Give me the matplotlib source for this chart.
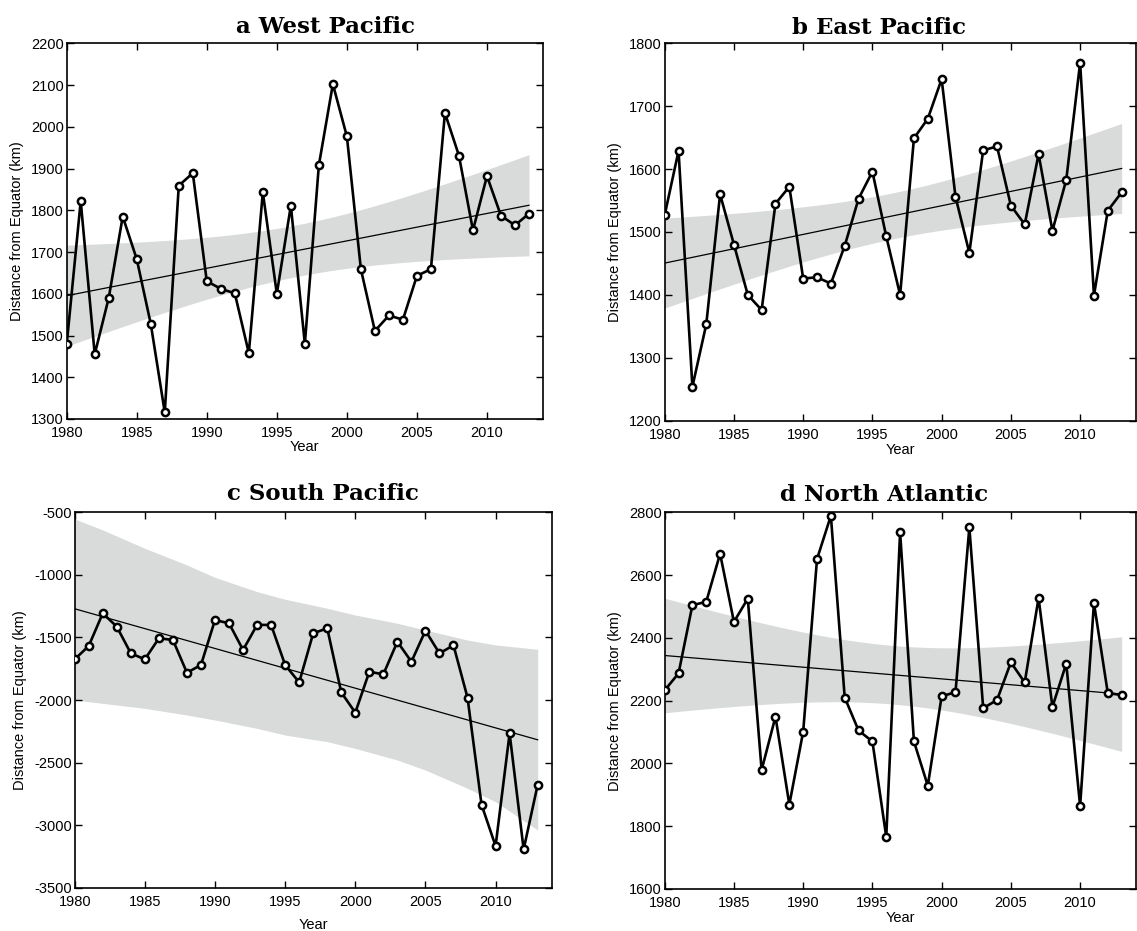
import numpy as np
import matplotlib.pyplot as plt

years = np.arange(1980, 2014)

west_pacific = [1479, 1822, 1455, 1590, 1785, 1683, 1528, 1316, 1859, 1889,
                1630, 1612, 1601, 1458, 1843, 1600, 1811, 1480, 1908, 2102,
                1977, 1659, 1511, 1548, 1538, 1643, 1659, 2033, 1931, 1752,
                1882, 1787, 1764, 1792]
east_pacific = [1527, 1629, 1254, 1353, 1560, 1480, 1400, 1376, 1545, 1572,
                1426, 1428, 1418, 1478, 1553, 1596, 1493, 1400, 1649, 1680,
                1743, 1556, 1467, 1630, 1636, 1542, 1512, 1624, 1502, 1583,
                1769, 1399, 1534, 1563]
south_pacific = [-1675, -1568, -1307, -1414, -1627, -1675, -1507, -1520, -1782, -1720,
                 -1361, -1387, -1600, -1400, -1400, -1720, -1859, -1467, -1427, -1939,
                 -2101, -1774, -1795, -1534, -1694, -1446, -1627, -1563, -1981, -2837,
                 -3167, -2267, -3194, -2677]
north_atlantic = [2233, 2287, 2504, 2515, 2668, 2451, 2525, 1979, 2149, 1869,
                  2101, 2651, 2789, 2210, 2105, 2070, 1766, 2736, 2070, 1929,
                  2214, 2227, 2752, 2176, 2202, 2322, 2258, 2527, 2180, 2318,
                  1864, 2511, 2224, 2218]

# the South Pacific band is not a plain OLS interval, edges read off the figure
south_band_years = [1980, 1982, 1985, 1988, 1990, 1993, 1995, 1998, 2000, 2003,
                    2005, 2008, 2010, 2013]
south_band_hi = [-553, -641, -788, -921, -1020, -1134, -1195, -1267, -1321, -1387,
                 -1441, -1521, -1560, -1595]
south_band_lo = [-2000, -2027, -2067, -2120, -2160, -2227, -2280, -2333, -2387, -2480,
                 -2560, -2706, -2813, -3039]

titles = ['a West Pacific', 'b East Pacific', 'c South Pacific', 'd North Atlantic']
yticks = [np.arange(1300, 2201, 100), np.arange(1200, 1801, 100),
          np.arange(-3500, -499, 500), np.arange(1600, 2801, 200)]

W, H = 1137, 931
# axes boxes in pixels: left, top, right, bottom
boxes = [(66.7, 43.3, 543, 419), (664.7, 43.3, 1135.5, 420.7),
         (74.7, 512.3, 551.7, 887.7), (664.7, 512.3, 1135.5, 889)]
title_pos = [(326, 33), (879, 34), (323, 500), (884, 501)]
year_pad = [0, 1, 7, 1]

T95 = 2.037  # t quantile, 32 dof


def ols_fit(x, y):
    x = np.asarray(x, float)
    y = np.asarray(y, float)
    xm = x.mean()
    sxx = ((x - xm) ** 2).sum()
    slope = ((x - xm) * (y - y.mean())).sum() / sxx
    icpt = y.mean() - slope * xm
    fit = icpt + slope * x
    s = np.sqrt(((y - fit) ** 2).sum() / (len(x) - 2))
    hw = T95 * s * np.sqrt(1.0 / len(x) + (x - xm) ** 2 / sxx)
    return fit, hw


plt.rcParams['font.family'] = ['Liberation Sans', 'DejaVu Sans']
plt.rcParams['axes.unicode_minus'] = False
fig = plt.figure(figsize=(W / 100, H / 100), dpi=100)

series = [west_pacific, east_pacific, south_pacific, north_atlantic]
for i, data in enumerate(series):
    l, t, r, b = boxes[i]
    ax = fig.add_axes([l / W, 1 - b / H, (r - l) / W, (b - t) / H])
    fit, hw = ols_fit(years, data)
    if i == 2:
        ax.fill_between(south_band_years, south_band_lo, south_band_hi,
                        color='#d9dada', lw=0, zorder=1)
    else:
        ax.fill_between(years, fit - hw, fit + hw, color='#d9dada', lw=0, zorder=1)
    ax.plot(years, fit, color='black', lw=0.9, zorder=2)
    ax.plot(years, data, color='black', lw=1.9, marker='o', ms=5.2,
            mfc='white', mec='black', mew=1.8, zorder=3)

    ax.set_xlim(1980, 2014)
    ax.set_ylim(yticks[i][0], yticks[i][-1])
    ax.set_xticks(np.arange(1980, 2011, 5))
    ax.set_yticks(yticks[i])
    ax.tick_params(direction='in', top=True, right=True, length=5, width=1,
                   labelsize=10.5)
    ax.tick_params(axis='x', pad=5)
    ax.tick_params(axis='y', pad=2)
    for sp in ax.spines.values():
        sp.set_linewidth(1.2)
    ax.set_xlabel('Year', fontsize=10.5, labelpad=year_pad[i])
    ax.set_ylabel('Distance from Equator (km)', fontsize=10.5, labelpad=5)

    tx, ty = title_pos[i]
    fig.text(tx / W, 1 - ty / H, titles[i], ha='center', va='baseline',
             fontsize=16.5, fontweight='bold', family='DejaVu Serif')

fig.savefig('out.png', dpi=100)
